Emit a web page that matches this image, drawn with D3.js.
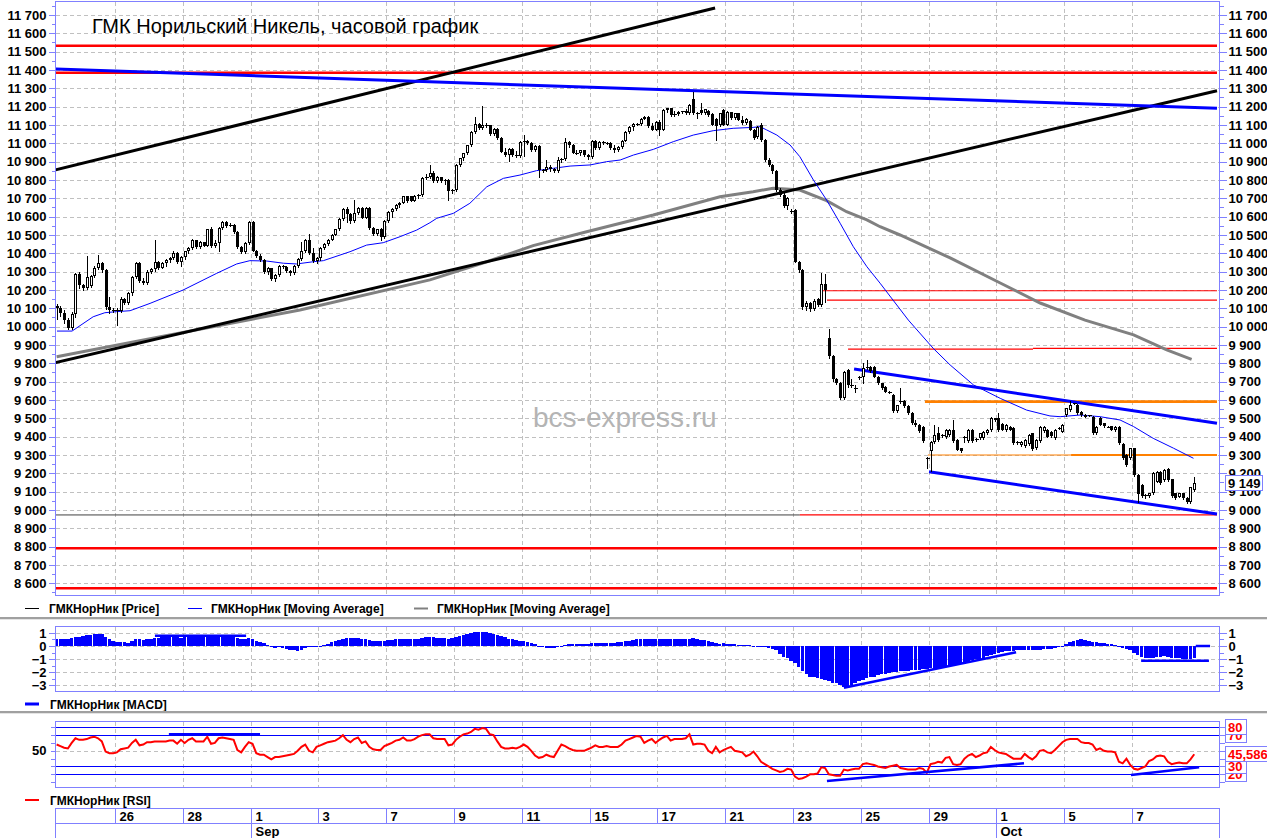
<!DOCTYPE html>
<html><head><meta charset="utf-8">
<script src="https://cdn.jsdelivr.net/npm/d3@7"></script>
<style>
html,body{margin:0;padding:0;background:#fff;overflow:hidden;}
svg{display:block;font-family:"Liberation Sans",Arial,sans-serif;}
</style></head><body>
<svg id="c" width="1267" height="838"></svg>
<script>
// ---------------- DATA ----------------
const HOURS_PER_DAY = 9;
const FIRST_HOUR = 2; // first visible bar is the 3rd hour of Aug 24
const dayLabels = ["24","25","26","27","28","31","1","2","3","4","7","8","9","10","11","14","15","16","17","18","21","22","23","24","25","28","29","30","1","2","5","6","7","8"];
const monthStarts = [["Sep",6],["Oct",28]];
const title = "ГМК Норильский Никель, часовой график";
const lastPrice = 9149;
const lastRsi = 45.586;

// hourly candles [open, high, low, close]
const candles = [
// Aug 24
[10110,10125,10040,10100],[10100,10110,10060,10075],[10075,10090,10020,10035],[10035,10045,9985,9995],[9995,10080,9985,10070],[10070,10295,10050,10285],[10285,10300,10210,10225],
// Aug 25
[10225,10235,10200,10212],[10212,10385,10205,10270],[10220,10280,10215,10275],[10275,10330,10270,10320],[10320,10390,10315,10345],[10345,10350,10300,10310],[10310,10315,10095,10105],[10105,10160,10075,10090],[10090,10100,10080,10092],
// Aug 26
[10092,10100,10010,10085],[10085,10160,10080,10150],[10150,10155,10125,10130],[10130,10190,10125,10185],[10185,10275,10170,10270],[10270,10350,10265,10345],[10345,10355,10245,10250],[10250,10265,10230,10240],[10240,10310,10235,10300],
// Aug 27
[10300,10320,10295,10312],[10312,10475,10305,10355],[10355,10360,10315,10322],[10322,10350,10318,10345],[10345,10370,10330,10365],[10365,10380,10355,10375],[10375,10410,10368,10400],[10400,10405,10345,10350],[10350,10385,10330,10378],
// Aug 28
[10378,10415,10370,10410],[10410,10435,10400,10430],[10430,10478,10425,10470],[10470,10472,10428,10432],[10432,10465,10428,10460],[10460,10462,10438,10442],[10442,10535,10440,10530],[10530,10545,10435,10440],[10440,10470,10435,10458],
// Aug 31
[10458,10545,10410,10540],[10540,10575,10535,10570],[10570,10575,10545,10550],[10550,10565,10548,10557],[10557,10562,10510,10515],[10515,10520,10428,10432],[10432,10440,10400,10405],[10405,10460,10400,10455],[10455,10575,10450,10570],
// Sep 1
[10570,10575,10410,10415],[10415,10420,10380,10385],[10385,10395,10360,10365],[10365,10370,10295,10300],[10300,10325,10285,10320],[10320,10322,10255,10260],[10260,10285,10250,10280],[10280,10335,10275,10330],[10330,10335,10320,10328],
// Sep 2
[10328,10330,10300,10305],[10305,10310,10280,10290],[10290,10335,10285,10330],[10330,10375,10325,10370],[10370,10460,10365,10410],[10410,10480,10405,10472],[10472,10505,10395,10400],[10400,10430,10355,10360],[10360,10380,10345,10372],
// Sep 3
[10372,10435,10365,10430],[10430,10455,10425,10450],[10450,10478,10445,10475],[10475,10505,10470,10502],[10502,10532,10498,10530],[10530,10590,10525,10585],[10585,10648,10580,10643],[10643,10650,10570,10612],[10612,10620,10565,10575],
// Sep 4
[10575,10690,10570,10620],[10620,10655,10615,10648],[10648,10652,10590,10595],[10595,10650,10590,10645],[10645,10650,10535,10540],[10540,10545,10500,10505],[10505,10535,10500,10530],[10530,10540,10475,10490],[10490,10580,10485,10575],
// Sep 7
[10575,10632,10570,10628],[10628,10645,10600,10640],[10640,10670,10635,10665],[10665,10680,10655,10676],[10676,10715,10672,10712],[10712,10715,10682,10685],[10710,10712,10684,10688],[10688,10720,10684,10715],[10715,10722,10700,10718],
// Sep 8
[10718,10815,10715,10810],[10810,10835,10805,10815],[10815,10882,10810,10840],[10840,10848,10790,10795],[10795,10820,10790,10815],[10815,10818,10790,10795],[10795,10805,10780,10800],[10800,10805,10690,10738],[10738,10750,10730,10745],
// Sep 9
[10745,10885,10740,10880],[10880,10920,10875,10918],[10918,10948,10910,10945],[10945,10992,10940,10990],[10990,11065,10985,11062],[11062,11142,11055,11108],[11108,11112,11080,11085],[11085,11205,11080,11100],[11100,11110,11090,11098],
// Sep 10
[11098,11100,11045,11050],[11050,11085,11045,11080],[11080,11085,11025,11030],[11030,11035,10950,10955],[10955,10975,10930,10935],[10935,10975,10905,10970],[10970,10975,10930,10935],[10935,10960,10925,10930],[10930,11012,10925,11008],
// Sep 11
[11008,11045,10930,11015],[11015,11020,10995,11000],[11000,11005,10960,10965],[10965,10992,10960,10988],[10988,10992,10818,10855],[10855,10860,10845,10852],[10852,10910,10848,10872],[10872,10880,10850,10860],[10860,10865,10845,10850],
// Sep 14
[10850,10925,10845,10908],[10908,10920,10900,10915],[10915,11028,10910,11005],[11005,11012,10980,10990],[10990,10995,10945,10948],[10948,10965,10940,10945],[10945,10965,10935,10962],[10962,10965,10930,10935],[10935,10940,10915,10925],
// Sep 15
[10925,11020,10920,11015],[11015,11020,10970,10975],[10975,11012,10970,11008],[11008,11012,10995,11000],[11000,11005,10995,11002],[11002,11005,10970,10975],[10975,10990,10955,10962],[10962,10985,10958,10980],[10980,11020,10975,11015],
// Sep 16
[11015,11065,11015,11060],[11060,11092,11055,11088],[11088,11110,11070,11106],[11106,11112,11100,11108],[11108,11138,11100,11135],[11135,11148,11130,11145],[11145,11150,11090,11095],[11095,11110,11070,11075],[11075,11120,11070,11118],
// Sep 17
[11118,11128,11045,11075],[11075,11185,11070,11180],[11180,11195,11170,11190],[11190,11192,11150,11155],[11155,11175,11150,11160],[11160,11178,11155,11172],[11172,11178,11168,11175],[11175,11185,11160,11165],[11165,11215,11160,11210],
// Sep 18
[11240,11282,11160,11165],[11165,11172,11136,11160],[11182,11218,11158,11165],[11165,11188,11160,11185],[11175,11180,11150,11155],[11160,11165,11098,11102],[11135,11140,11018,11092],[11100,11168,11095,11165],[11182,11185,11098,11102],
// Sep 21
[11102,11175,11098,11170],[11170,11172,11135,11138],[11138,11168,11135,11164],[11164,11168,11125,11128],[11128,11148,11105,11110],[11110,11138,11105,11135],[11120,11125,11070,11075],[11075,11080,11025,11030],[11032,11095,11030,11090],
// Sep 22
[11100,11110,11015,11020],[11020,11025,10905,10910],[10910,10920,10878,10882],[10882,10885,10840,10848],[10848,10855,10740,10748],[10748,10758,10712,10720],[10720,10730,10650,10660],[10660,10708,10640,10700],[10632,10640,10622,10628],
// Sep 23
[10636,10640,10350,10355],[10355,10360,10300,10310],[10310,10315,10095,10105],[10105,10140,10090,10130],[10130,10135,10088,10095],[10095,10150,10090,10140],[10150,10155,10110,10118],[10118,10295,10110,10235],[10230,10285,10135,10200],
// Sep 24
[9940,9985,9830,9838],[9838,9845,9705,9712],[9712,9720,9688,9692],[9692,9700,9605,9610],[9610,9760,9605,9755],[9765,9770,9672,9682],[9682,9712,9670,9675],[9665,9682,9645,9662],[9720,9730,9715,9724],
// Sep 25
[9724,9800,9690,9772],[9772,9818,9768,9782],[9782,9785,9752,9756],[9780,9785,9725,9728],[9728,9732,9688,9692],[9692,9695,9660,9665],[9672,9678,9642,9646],[9646,9650,9640,9645],[9628,9632,9532,9538],
// Sep 28
[9538,9575,9532,9570],[9590,9665,9585,9592],[9592,9600,9560,9565],[9565,9570,9525,9528],[9528,9535,9470,9475],[9475,9490,9460,9465],[9465,9470,9425,9430],[9455,9460,9370,9375],[9285,9290,9228,9282],
// Sep 29
[9320,9378,9210,9372],[9372,9465,9368,9408],[9418,9455,9378,9382],[9405,9412,9400,9408],[9400,9440,9395,9436],[9410,9440,9405,9436],[9436,9492,9370,9374],[9382,9386,9325,9328],[9336,9340,9315,9320],
// Sep 30
[9398,9405,9370,9400],[9375,9440,9372,9436],[9436,9440,9370,9375],[9382,9392,9378,9386],[9390,9420,9386,9418],[9392,9430,9388,9427],[9418,9440,9415,9436],[9436,9505,9432,9500],[9500,9504,9488,9492],
// Oct 1
[9500,9528,9432,9438],[9470,9475,9434,9438],[9438,9468,9432,9464],[9455,9460,9434,9437],[9445,9450,9360,9365],[9373,9378,9362,9365],[9355,9376,9350,9373],[9348,9385,9345,9382],[9360,9412,9355,9408],
// Oct 2
[9418,9422,9325,9330],[9336,9385,9330,9382],[9375,9458,9372,9455],[9430,9458,9428,9455],[9438,9442,9398,9400],[9428,9432,9398,9402],[9392,9440,9388,9436],[9445,9450,9440,9446],[9428,9468,9425,9464],
// Oct 5
[9518,9558,9515,9554],[9545,9592,9540,9573],[9582,9586,9578,9580],[9573,9578,9525,9528],[9536,9540,9515,9518],[9518,9522,9506,9509],[9518,9520,9515,9517],[9509,9512,9415,9418],[9418,9458,9412,9455],
// Oct 6
[9500,9505,9462,9465],[9472,9476,9452,9456],[9455,9460,9450,9454],[9456,9460,9434,9437],[9436,9458,9432,9455],[9455,9460,9360,9364],[9362,9366,9278,9282],[9300,9305,9240,9246],[9282,9340,9278,9336],
// Oct 7
[9336,9340,9188,9192],[9192,9195,9045,9085],[9136,9140,9070,9074],[9082,9086,9068,9074],[9074,9095,9070,9091],[9091,9205,9088,9200],[9155,9212,9150,9208],[9209,9215,9142,9146],[9165,9222,9160,9218],
// Oct 8
[9222,9230,9160,9164],[9167,9170,9070,9074],[9090,9094,9060,9064],[9073,9094,9070,9091],[9091,9095,9062,9064],[9068,9072,9036,9042],[9045,9128,9040,9124],[9110,9182,9105,9149]
];

// moving averages as [bar slot, value]
const maFast = [[2.6,9976],[6.6,9976],[12.2,10054],[15.3,10076],[18.5,10082],[22,10087],[27.3,10127],[36.1,10200],[45,10291],[50.3,10342],[53.8,10360],[58.3,10358],[62.7,10346],[66.2,10342],[70.6,10354],[73.3,10360],[80.4,10409],[84.8,10445],[89.2,10458],[93.7,10491],[98.1,10527],[101.6,10567],[103.4,10591],[107.8,10618],[112.2,10673],[116.7,10763],[121.1,10809],[125.5,10827],[129.9,10851],[134.4,10864],[138.8,10876],[144.1,10882],[148.5,10900],[152.1,10909],[155.6,10936],[160.9,10967],[166.2,11009],[171.5,11045],[176.8,11069],[182.1,11082],[187.4,11087],[189.2,11091],[191,11073],[193.7,11045],[197.2,10991],[199.8,10927],[203.4,10800],[206.9,10691],[210.5,10564],[214,10436],[217.6,10327],[221.1,10237],[228.6,10036],[235.2,9882],[239.7,9791],[245.9,9682],[253,9609],[260,9545],[266.2,9513],[268.9,9509],[274.2,9518],[279.5,9509],[284.8,9491],[288.4,9455],[293.6,9391],[299,9337],[304.3,9282]];
const maSlow = [[2.5,9836],[27.3,9934],[67.1,10091],[101.6,10255],[116.7,10354],[129,10442],[143.2,10518],[160.9,10609],[178.6,10709],[187.4,10736],[192.7,10755],[197.2,10749],[199.8,10745],[206.9,10687],[212.2,10627],[217.6,10582],[221.1,10545],[226.4,10500],[239.7,10375],[253,10238],[263.6,10129],[275.5,10036],[288.4,9955],[297.2,9873],[303.8,9822]];

// MACD histogram, one per bar
const macd = [
0.5,0.5,0.52,0.55,0.6,0.65,0.7,
0.78,0.82,0.85,0.9,0.95,0.9,0.72,0.5,0.4,
0.3,0.28,0.27,0.26,0.35,0.5,0.5,0.48,0.5,
0.53,0.62,0.64,0.65,0.66,0.68,0.7,0.66,0.64,
0.66,0.68,0.7,0.69,0.68,0.66,0.7,0.68,0.66,
0.7,0.72,0.74,0.72,0.68,0.6,0.55,0.52,0.6,
0.52,0.4,0.3,0.2,0.08,-0.05,-0.12,-0.1,-0.12,
-0.22,-0.3,-0.34,-0.38,-0.3,-0.15,-0.05,-0.08,-0.04,
0.02,0.1,0.18,0.3,0.4,0.45,0.55,0.6,0.6,
0.62,0.6,0.52,0.5,0.45,0.4,0.38,0.37,0.4,
0.42,0.45,0.5,0.5,0.52,0.5,0.5,0.52,0.55,
0.6,0.65,0.7,0.66,0.62,0.6,0.58,0.55,0.6,
0.68,0.75,0.85,0.92,0.98,1.04,1.05,1.06,1.05,
1.0,0.95,0.85,0.75,0.65,0.55,0.5,0.42,0.4,
0.35,0.3,0.22,0.12,0.0,-0.1,-0.15,-0.15,-0.12,
-0.1,0.0,0.08,0.12,0.12,0.14,0.15,0.14,0.16,
0.2,0.2,0.22,0.22,0.24,0.22,0.25,0.28,0.3,
0.35,0.4,0.45,0.5,0.5,0.52,0.5,0.5,0.52,
0.5,0.52,0.55,0.52,0.5,0.52,0.5,0.5,0.55,
0.58,0.5,0.45,0.42,0.35,0.28,0.22,0.18,0.2,
0.18,0.12,0.12,0.1,0.08,0.1,0.04,0.0,0.02,
-0.05,-0.1,-0.15,-0.2,-0.3,-0.6,-0.85,-0.95,-1.15,
-1.3,-1.6,-1.9,-2.1,-2.35,-2.4,-2.45,-2.5,-2.6,
-2.7,-2.8,-2.85,-3.0,-3.1,-3.12,-3.0,-2.8,-2.7,
-2.6,-2.45,-2.4,-2.35,-2.25,-2.15,-2.1,-2.05,-2.0,
-1.95,-1.9,-1.9,-1.88,-1.85,-1.82,-1.8,-1.75,-1.72,
-1.7,-1.68,-1.65,-1.6,-1.55,-1.45,-1.42,-1.4,-1.38,
-1.35,-1.3,-1.1,-1.02,-1.0,-0.95,-0.8,-0.65,-0.6,
-0.55,-0.45,-0.38,-0.36,-0.35,-0.34,-0.32,-0.3,-0.3,
-0.3,-0.32,-0.28,-0.25,-0.22,-0.2,-0.15,-0.1,0.0,
0.15,0.28,0.38,0.45,0.5,0.48,0.4,0.3,0.28,
0.25,0.22,0.18,0.12,0.08,0.0,-0.15,-0.25,-0.3,
-0.5,-0.7,-0.85,-0.92,-0.95,-0.92,-0.85,-0.82,-0.8,
-0.82,-0.9,-0.95,-0.95,-1.0,-1.02,-0.98,-0.95
];

// RSI, one per bar
const rsi = [
58,56,54,53,60,66,64,
64,65,67,68,66,62,49,47,47,
48,52,53,54,60,64,57,58,61,
61,62,62,62,62,63,63,59,64,
60,64,66,62,62,62,68,59,60,
66,67,66,65,64,51,48,55,61,
59,47,45,45,42,39,42,42,43,
44,45,46,50,55,58,50,48,55,
57,59,61,62,63,66,70,64,61,
65,67,60,62,55,52,51,51,56,
58,60,63,64,67,63,63,65,68,
70,71,71,66,65,65,65,57,58,
64,68,71,72,74,78,77,79,78,
71,70,62,55,53,53,54,53,55,
58,55,50,44,41,42,45,43,42,
50,58,56,53,51,50,50,50,52,
54,57,55,55,56,55,55,55,58,
63,65,67,69,68,60,63,65,60,
64,67,69,63,65,65,65,66,71,
58,59,59,58,50,47,55,48,51,
53,55,50,49,48,43,45,49,43,
36,33,30,27,25,23,24,27,26,
17,14,15,17,20,20,21,29,28,
20,19,18,18,26,25,26,27,27,
33,34,33,32,30,29,28,30,31,
32,28,27,26,26,26,28,27,22,
33,34,36,35,41,42,33,32,33,
40,44,46,42,44,47,48,55,51,
48,47,46,43,40,40,40,46,42,
39,43,50,51,48,47,51,56,61,
64,65,65,65,61,60,60,58,51,
53,50,49,49,48,36,34,40,32,
27,26,28,30,37,39,43,44,43,
36,33,34,35,34,34,39,45.586
];

// drawn levels / trend lines: [startSlot, startValue, endSlot, endValue]; null end = right edge
const redLevelsThick = [11532, 11385, 8791, 8573];
const redLevelsThin = [[205.9,null,10196],[207,null,10145],[212.6,261.7,9877],[261.7,null,9882],[199.8,null,8973]];
const darkLevelsThin = [[2.07,199.8,8973]];
const orangeLevels = [[233,null,9591]];
const orangeLevelsThin = [[233.8,271.8,9300],[271.8,null,9300]];
const blackTrends = [[2.07,10855,177.3,11738],[2.07,9803,null,11287]];
const blueTrends = [[2.07,11405,null,11191],[214.2,9769,null,9473],[234.1,9209,null,8978]];
const macdLines = [[28.6,0.79,52.8,0.79],[211.5,-3.18,257.2,-0.48],[290.4,-1.12,308.4,-1.12],[304.9,0,308.7,0]];
const rsiLines = [[32.3,71,56.5,71],[207,11.4,259.3,34],[287.7,19.1,305.8,28.9]];
const rsiLevels = [80,70,30,20];

// ---------------- CHART ----------------
const svg = d3.select("#c");
const FONT = "'Liberation Sans', Arial, sans-serif";
const AXIS = "#8080ff", GRID = "#c0c0c0";
const PL = 55.5, PR = 1219.5;
const nSlots = dayLabels.length * HOURS_PER_DAY;
const xS = d3.scaleLinear().domain([0, nSlots]).range([47.2, 47.2 + nSlots * 3.767]);
const RIGHT = xS.invert(1217);
const yP = d3.scaleLinear().domain([8600, 11700]).range([583.33, 15]);
const yM = d3.scaleLinear().domain([-3, 1]).range([685.3, 632.9]);
const yR = d3.scaleLinear().domain([20, 80]).range([774.3, 727.3]);
const loc = d3.formatLocale({decimal:",", thousands:" ", grouping:[3], currency:["",""]});
const fInt = loc.format(",d"), fDec = loc.format(",.3f");

const panels = {
  main: {top:1.5, bot:595.5, y:yP},
  macd: {top:626.5, bot:691.5, y:yM},
  rsi:  {top:721.5, bot:787.5, y:yR}
};
const defs = svg.append("defs");
Object.entries(panels).forEach(([k,p])=>{
  defs.append("clipPath").attr("id","clip-"+k).append("rect")
    .attr("x",PL+0.5).attr("y",p.top+0.5).attr("width",PR-PL-1).attr("height",p.bot-p.top-1);
});

const tickDays = d3.range(2, dayLabels.length, 2);

// grids
function grid(key, hv){
  const p = panels[key];
  const g = svg.append("g").attr("shape-rendering","crispEdges").attr("stroke",GRID).attr("stroke-dasharray","4,3");
  hv.forEach(v=>{
    const y = Math.round(p.y(v))+0.5;
    g.append("line").attr("x1",PL).attr("x2",PR).attr("y1",y).attr("y2",y);
  });
  tickDays.forEach(d=>{
    const x = Math.round(xS(d*HOURS_PER_DAY))+0.5;
    g.append("line").attr("x1",x).attr("x2",x).attr("y1",p.top).attr("y2",p.bot);
  });
}
grid("main", d3.range(8600, 11701, 100));
grid("macd", [1,0,-1,-2,-3]);
grid("rsi", [50]);

// title & watermark
svg.append("text").attr("x",92).attr("y",33).attr("font-size",20).attr("font-family",FONT).attr("fill","#000").text(title);
svg.append("text").attr("x",533).attr("y",427).attr("font-size",28).attr("font-family",FONT).attr("fill","#b4b4b4").text("bcs-express.ru");

// helpers
function seg(g, y, s0, v0, s1, v1, color, w){
  g.append("line").attr("x1",xS(s0)).attr("y1",y(v0)).attr("x2",xS(s1==null?RIGHT:s1)).attr("y2",y(v1))
    .attr("stroke",color).attr("stroke-width",w);
}
const gM = svg.append("g").attr("clip-path","url(#clip-main)");
redLevelsThick.forEach(v=>seg(gM,yP,2.07,v,null,v,"#ff0000",2.6));
darkLevelsThin.forEach(d=>seg(gM,yP,d[0],d[2],d[1],d[2],"#404040",1));
redLevelsThin.forEach(d=>seg(gM,yP,d[0],d[2],d[1],d[2],"#ff0000",1.2));
orangeLevels.forEach(d=>seg(gM,yP,d[0],d[2],d[1],d[2],"#ff8000",2.6));
orangeLevelsThin.forEach((d,i)=>seg(gM,yP,d[0],d[2],d[1],d[2],"#ff8000",i?1.8:1.2));

const lineGen = d3.line().x(d=>xS(d[0])).y(d=>yP(d[1]));
gM.append("path").attr("d",lineGen(maSlow)).attr("fill","none").attr("stroke","#808080").attr("stroke-width",3);
blackTrends.forEach(d=>seg(gM,yP,d[0],d[1],d[2],d[3],"#000",3));
blueTrends.forEach(d=>seg(gM,yP,d[0],d[1],d[2],d[3],"#0000ff",3));
gM.append("path").attr("d",lineGen(maFast)).attr("fill","none").attr("stroke","#0000ff").attr("stroke-width",1);

// candles
const gC = svg.append("g").attr("clip-path","url(#clip-main)").attr("shape-rendering","crispEdges");
candles.forEach((d,i)=>{
  const [o,h,l,c] = d;
  const cx = Math.round(xS(FIRST_HOUR + i + 0.5));
  gC.append("line").attr("x1",cx+0.5).attr("x2",cx+0.5).attr("y1",Math.round(yP(h))).attr("y2",Math.round(yP(l))+1).attr("stroke","#000");
  const yt = Math.round(yP(Math.max(o,c))), yb = Math.round(yP(Math.min(o,c)));
  if (yb - yt < 2) {
    gC.append("rect").attr("x",cx-1).attr("y",yt).attr("width",4).attr("height",1).attr("fill","#000");
  } else if (c > o) {
    gC.append("rect").attr("x",cx-0.5).attr("y",yt+0.5).attr("width",2).attr("height",yb-yt-1).attr("fill","#fff").attr("stroke","#000");
  } else {
    gC.append("rect").attr("x",cx-1).attr("y",yt).attr("width",3).attr("height",yb-yt).attr("fill","#000");
  }
});

// MACD
const gH = svg.append("g").attr("clip-path","url(#clip-macd)").attr("shape-rendering","crispEdges");
macd.forEach((v,i)=>{
  const x = xS(FIRST_HOUR + i + 0.5);
  const y0 = yM(Math.max(0,v)), y1 = yM(Math.min(0,v));
  gH.append("rect").attr("x",x-1.75).attr("width",3.5).attr("y",y0).attr("height",Math.max(1,y1-y0)).attr("fill","#0000ff");
});
const gML = svg.append("g").attr("clip-path","url(#clip-macd)");
macdLines.forEach(d=>seg(gML,yM,d[0],d[1],d[2],d[3],"#0000ff",2.5));

// RSI
const gR = svg.append("g").attr("clip-path","url(#clip-rsi)");
rsiLevels.forEach(v=>{
  const y = Math.round(yR(v))+0.5;
  gR.append("line").attr("x1",PL).attr("x2",PR).attr("y1",y).attr("y2",y).attr("stroke","#0000ff").attr("shape-rendering","crispEdges");
});
gR.append("path").attr("d",d3.line().x((d,i)=>xS(FIRST_HOUR+i+0.5)).y(d=>yR(d))(rsi)).attr("fill","none").attr("stroke","#ff0000").attr("stroke-width",2);
rsiLines.forEach(d=>seg(gR,yR,d[0],d[1],d[2],d[3],"#0000ff",2.5));

// panel frames
Object.values(panels).forEach(p=>{
  svg.append("rect").attr("x",PL).attr("y",p.top).attr("width",PR-PL).attr("height",p.bot-p.top)
    .attr("fill","none").attr("stroke",AXIS).attr("shape-rendering","crispEdges");
});

// axes
function styleAxis(g){
  g.attr("font-family",FONT).attr("font-size",13).attr("font-weight","bold");
  g.select(".domain").remove();
  g.selectAll("line").attr("stroke",AXIS);
  g.selectAll("text").attr("fill","#000");
  g.attr("shape-rendering","crispEdges");
  return g;
}
function axes(y, major, minor, fmtL, fmtR, majSize){
  styleAxis(svg.append("g").attr("transform",`translate(${PL},0)`).call(d3.axisLeft(y).tickValues(major).tickFormat(fmtL).tickSize(majSize).tickPadding(2).tickSizeOuter(0)));
  styleAxis(svg.append("g").attr("transform",`translate(${PR},0)`).call(d3.axisRight(y).tickValues(major).tickFormat(fmtR).tickSize(majSize).tickPadding(2).tickSizeOuter(0)));
  if (minor.length){
    styleAxis(svg.append("g").attr("transform",`translate(${PL},0)`).call(d3.axisLeft(y).tickValues(minor).tickFormat("").tickSize(4).tickSizeOuter(0)));
    styleAxis(svg.append("g").attr("transform",`translate(${PR},0)`).call(d3.axisRight(y).tickValues(minor).tickFormat("").tickSize(4).tickSizeOuter(0)));
  }
}
axes(yP, d3.range(8600,11701,100), d3.range(8550,11751,100), fInt, fInt, 7);
axes(yM, [1,0,-1,-2,-3], [0.5,-0.5,-1.5,-2.5], d3.format("d"), d3.format("d"), 7);
// RSI axis: ticks every 10, left label only 50
styleAxis(svg.append("g").attr("transform",`translate(${PL},0)`).call(d3.axisLeft(yR).tickValues(d3.range(10,81,10)).tickFormat(v=>v===50?"50":"").tickSize(5).tickPadding(4).tickSizeOuter(0)));
styleAxis(svg.append("g").attr("transform",`translate(${PR},0)`).call(d3.axisRight(yR).tickValues(d3.range(10,81,10)).tickFormat("").tickSize(5).tickSizeOuter(0)));

// right-side value boxes
function valBox(y, txt, color, w){
  const g = svg.append("g").attr("font-family",FONT).attr("font-size",13).attr("font-weight","bold");
  g.append("rect").attr("x",1225.5).attr("y",Math.round(y)-7.5).attr("width",w).attr("height",15).attr("fill","#fff").attr("stroke",AXIS).attr("shape-rendering","crispEdges");
  g.append("text").attr("x",1228).attr("y",Math.round(y)+5).attr("fill",color).text(txt);
}
svg.append("text").attr("x",1228).attr("y",yR(50)+4).attr("font-family",FONT).attr("font-size",13).attr("font-weight","bold").text("50");
valBox(yR(20),"20","#ff0000",21);
valBox(yR(70),"70","#ff0000",21);
valBox(yR(30),"30","#ff0000",21);
valBox(yR(80),"80","#ff0000",21);
valBox(yR(lastRsi),fDec(lastRsi),"#ff0000",44);
valBox(yP(lastPrice),fInt(lastPrice),"#000",37);

// legends
function legend(x, y, color, w, label, tx){
  svg.append("line").attr("x1",x).attr("x2",x+14).attr("y1",y).attr("y2",y).attr("stroke",color).attr("stroke-width",w);
  svg.append("text").attr("x",tx).attr("y",y+4.5).attr("font-family",FONT).attr("font-size",12).attr("font-weight","bold").attr("fill","#000").text(label);
}
legend(25,608.5,"#000",1,"ГМКНорНик [Price]",49);
legend(188,608.5,"#0000ff",1,"ГМКНорНик [Moving Average]",211);
legend(414,608.5,"#808080",2,"ГМКНорНик [Moving Average]",437);
legend(25,704,"#0000ff",3,"ГМКНорНик [MACD]",50);
legend(25,800,"#ff0000",2,"ГМКНорНик [RSI]",50);

// separators
[617, 711].forEach(y=>{
  svg.append("rect").attr("x",0).attr("y",y).attr("width",1267).attr("height",2).attr("fill","#a0a0a0");
  svg.append("rect").attr("x",0).attr("y",y+2).attr("width",1267).attr("height",1).attr("fill","#e4e4e4");
});

// date axis
const gD = svg.append("g").attr("shape-rendering","crispEdges").attr("stroke",AXIS);
gD.append("line").attr("x1",PL).attr("x2",PR).attr("y1",808.5).attr("y2",808.5);
gD.append("line").attr("x1",PL).attr("x2",PR).attr("y1",823.5).attr("y2",823.5);
gD.append("line").attr("x1",PL).attr("x2",PL).attr("y1",808).attr("y2",838);
gD.append("line").attr("x1",PR).attr("x2",PR).attr("y1",808).attr("y2",838);
const gDT = svg.append("g").attr("font-family",FONT).attr("font-size",13).attr("font-weight","bold").attr("fill","#000");
tickDays.forEach(d=>{
  const x = Math.round(xS(d*HOURS_PER_DAY))+0.5;
  gD.append("line").attr("x1",x).attr("x2",x).attr("y1",808).attr("y2",823);
  gDT.append("text").attr("x",x+4).attr("y",821).text(dayLabels[d]);
});
monthStarts.forEach(([m,d])=>{
  const x = Math.round(xS(d*HOURS_PER_DAY))+0.5;
  gD.append("line").attr("x1",x).attr("x2",x).attr("y1",823).attr("y2",838);
  gDT.append("text").attr("x",x+4).attr("y",836).text(m);
});
</script>
</body></html>
